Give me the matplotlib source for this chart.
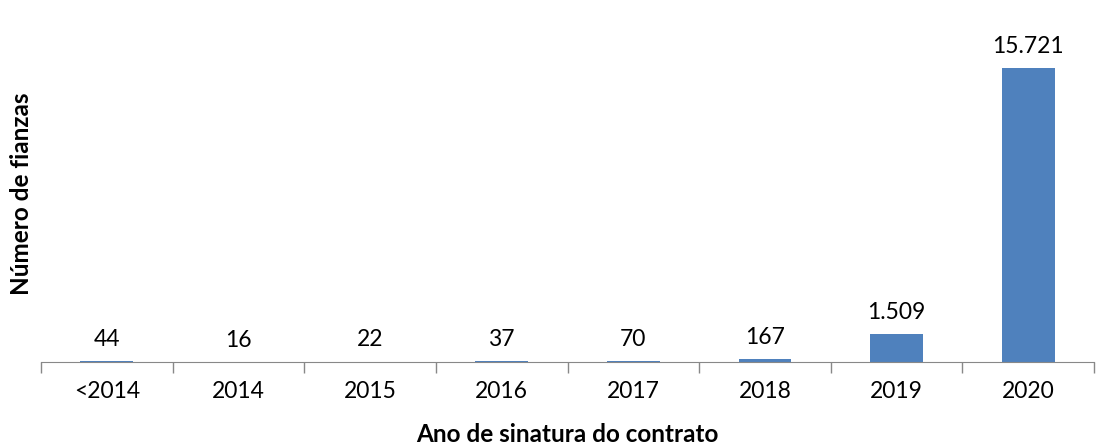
import matplotlib.pyplot as plt
import numpy as np

categorias = ['<2014', '2014', '2015', '2016', '2017', '2018', '2019', '2020']
fianzas = [44, 16, 22, 37, 70, 167, 1509, 15721]

plt.rcParams['font.family'] = ['Lato', 'DejaVu Sans']

fig = plt.figure(figsize=(10.99, 4.48), dpi=100)
ax = fig.add_axes([0.0373, 0.192, 0.9582, 0.752])

x = np.arange(len(categorias))
ax.bar(x, fianzas, width=0.4, color='#4F81BD')

for xi, v in zip(x, fianzas):
    ax.annotate(f'{v:,}'.replace(',', '.'), (xi, v), xytext=(0, 8),
                textcoords='offset points', ha='center', va='bottom', fontsize=16.5)

ax.set_xlim(-0.5, len(categorias) - 0.5)
ax.set_ylim(0, 18000)
ax.set_xticks(x)
ax.set_xticklabels(categorias, fontsize=16.5)
ax.set_xticks(np.arange(-0.5, len(categorias)), minor=True)
ax.tick_params(axis='x', which='major', length=0, pad=14)
ax.tick_params(axis='x', which='minor', length=8, color='#888888', width=1)
ax.set_yticks([])

for s in ['top', 'right', 'left']:
    ax.spines[s].set_visible(False)
ax.spines['bottom'].set_color('#888888')

ax.set_xlabel('Ano de sinatura do contrato', fontsize=17.5, fontweight='bold', labelpad=15)
ax.set_ylabel('Número de fianzas', fontsize=17.5, fontweight='bold', labelpad=6)

fig.savefig('out.png', dpi=100)
